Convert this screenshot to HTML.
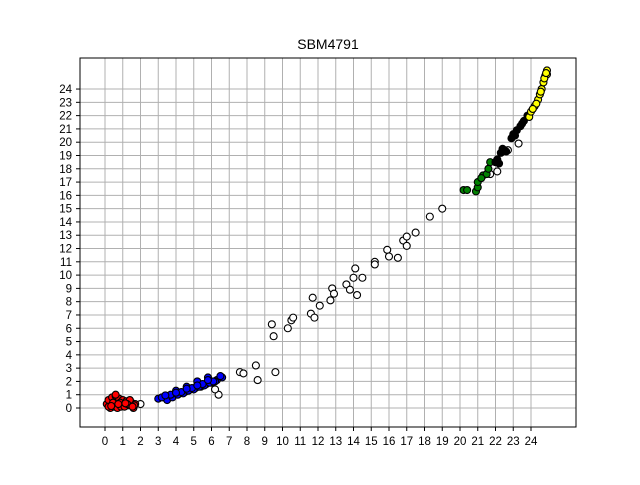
<!DOCTYPE html>
<html><head><meta charset="utf-8"><style>
body{margin:0;background:#fff;font-family:"Liberation Sans","DejaVu Sans",sans-serif}
</style></head><body>
<svg id="chart" width="640" height="480" xmlns="http://www.w3.org/2000/svg">
<rect width="640" height="480" fill="#fff"/>
<text x="328" y="49" text-anchor="middle" font-size="14">SBM4791</text>
<g id="grid"></g><g id="ticks"></g><g id="pts"></g>
<rect x="80" y="58" width="496" height="369" fill="none" stroke="#000" stroke-width="1"/>
</svg>
<script>
const xTicks=[0,1,2,3,4,5,6,7,8,9,10,11,12,13,14,15,16,17,18,19,20,21,22,23,24];
const yTicks=[0,1,2,3,4,5,6,7,8,9,10,11,12,13,14,15,16,17,18,19,20,21,22,23,24];
const redX=[0.1,0.3,0.5,0.7,0.9,1.1,1.3,1.5,1.7,0.2,0.4,0.6,0.8,1.0,1.2,1.4,0.3,0.5,0.7,0.9,0.6,1.1,1.6,0.2,0.45,0.85,1.25,1.65,0.35,0.75,1.15,1.55];
const redY=[0.3,0.5,0.2,0.6,0.3,0.5,0.2,0.4,0.3,0.6,0.8,0.9,0.7,0.6,0.5,0.6,0.0,0.1,0.0,0.1,1.0,0.1,0.0,0.1,0.4,0.4,0.3,0.2,0.15,0.3,0.35,0.1];
const blueX=[3.0,3.3,3.6,3.9,4.2,4.5,4.8,5.1,5.4,5.7,6.0,6.3,6.6,3.5,3.8,4.1,4.4,4.7,5.0,5.3,5.6,5.9,6.2,4.6,5.2,5.8,4.0,6.5,3.2,3.7,4.3,4.9,5.5,6.1,3.4,4.0,4.6,5.2,5.8];
const blueY=[0.7,0.8,0.9,1.0,1.1,1.2,1.4,1.5,1.6,1.8,1.9,2.1,2.3,0.6,0.8,1.0,1.1,1.3,1.4,1.6,1.7,1.9,2.0,1.6,2.0,2.3,1.3,2.4,0.8,1.0,1.2,1.5,1.8,2.0,0.95,1.15,1.45,1.7,2.1];
const whiteX=[2.0,6.4,6.2,7.6,7.8,8.5,8.6,9.6,9.4,9.5,10.3,10.5,10.6,11.6,11.8,11.7,12.1,12.7,12.8,12.9,13.6,13.8,14.0,14.1,14.2,14.5,15.2,15.2,15.9,16.0,16.5,16.8,17.0,17.0,17.5,18.3,19.0,22.1,21.7,22.7,23.3];
const whiteY=[0.3,1.0,1.4,2.7,2.6,3.2,2.1,2.7,6.3,5.4,6.0,6.6,6.8,7.1,6.8,8.3,7.7,8.1,9.0,8.6,9.3,8.9,9.8,10.5,8.5,9.8,11.0,10.8,11.9,11.4,11.3,12.6,12.2,12.9,13.2,14.4,15.0,17.8,17.6,19.4,19.9];
const greenX=[20.2,20.4,20.9,21.0,21.0,21.3,21.5,21.6,21.7,22.0,21.2];
const greenY=[16.4,16.4,16.3,16.6,17.0,17.5,17.6,18.0,18.5,18.5,17.3];
const blackX=[22.0,22.1,22.3,22.4,22.5,22.9,23.0,23.2,23.4,23.6,23.8,22.2,22.6,23.1,23.5];
const blackY=[18.5,18.7,19.2,19.5,19.4,20.3,20.6,20.9,21.2,21.6,22.0,18.4,19.3,20.5,21.4];
const yellowX=[23.9,24.0,24.2,24.4,24.5,24.6,24.7,24.8,24.9,24.9,24.3,24.75,24.1,24.55,24.85];
const yellowY=[21.9,22.3,22.7,23.2,23.6,24.0,24.5,25.0,25.4,25.1,22.9,24.8,22.5,23.8,25.2];
const NS="http://www.w3.org/2000/svg";
const sx=v=>105+v*17.75, sy=v=>408-v*13.29;
const grid=document.getElementById('grid'),ticks=document.getElementById('ticks'),pts=document.getElementById('pts');
function mk(tag,attrs,parent){const e=document.createElementNS(NS,tag);for(const k in attrs)e.setAttribute(k,attrs[k]);parent.appendChild(e);return e;}
xTicks.forEach(t=>{
 const g=mk('line',{x1:sx(t),x2:sx(t),y1:58,y2:427,stroke:'#b0b0b0','stroke-width':1},grid);
 
 
 mk('line',{x1:sx(t),x2:sx(t),y1:427,y2:431,stroke:'#000'},ticks);
 const l=mk('text',{x:sx(t),y:445,'text-anchor':'middle','font-size':'11.5'},ticks);l.textContent=t;
 
 
});
yTicks.forEach(t=>{
 const g=mk('line',{x1:80,x2:576,y1:sy(t),y2:sy(t),stroke:'#b0b0b0','stroke-width':1},grid);
 
 
 mk('line',{x1:76,x2:80,y1:sy(t),y2:sy(t),stroke:'#000'},ticks);
 const l=mk('text',{x:72,y:sy(t)+4,'text-anchor':'end','font-size':'11.5'},ticks);l.textContent=t;
 
 
});
function series(xs,ys,fill,name){xs.forEach((x,i)=>{
 const c=mk('circle',{cx:sx(x),cy:sy(ys[i]),r:3.5,fill:fill,stroke:'#000','stroke-width':1.1},pts);
 
 
});}
series(whiteX,whiteY,'#fff','point-white');
series(redX,redY,'#ff0000','point-red');
series(blueX,blueY,'#0000ff','point-blue');
series(greenX,greenY,'#008000','point-green');
series(blackX,blackY,'#000','point-black');
series(yellowX,yellowY,'#ffff00','point-yellow');
</script>
</body></html>
